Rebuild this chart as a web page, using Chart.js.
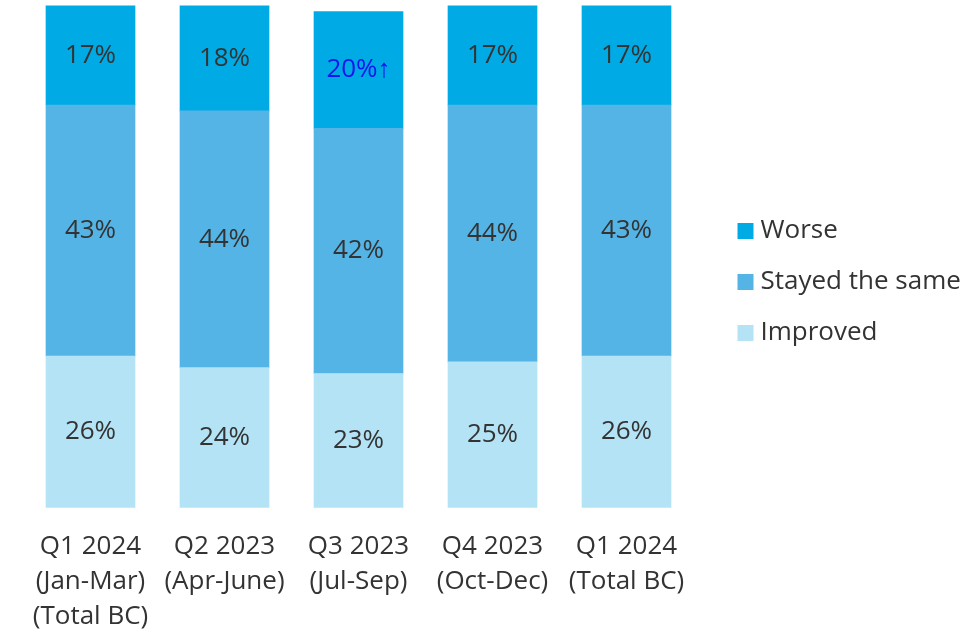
<!DOCTYPE html>
<html>
<head>
<meta charset="utf-8">
<script src="https://cdn.jsdelivr.net/npm/chart.js@4.4.1/dist/chart.umd.min.js"></script>
<style>
    html, body { margin: 0; padding: 0; background: #fff; }
    #wrap { width: 966px; height: 634px; }
</style>
</head>
<body>
<div id="wrap"><canvas id="bar_chart"></canvas></div>
<script>
var categories = [
    ["Q1 2024", "(Jan-Mar)", "(Total BC)"],
    ["Q2 2023", "(Apr-June)"],
    ["Q3 2023", "(Jul-Sep)"],
    ["Q4 2023", "(Oct-Dec)"],
    ["Q1 2024", "(Total BC)"]
];
var improved = [26, 24, 23, 25, 26];
var stayedSame = [43, 44, 42, 44, 43];
var worse = [17, 18, 20, 17, 17];
// arrow shown after a value that went up
var worseMarks = ["", "", "↑", "", ""];

var textColor = '#333333';
var fontFamily = '"Open Sans", "Noto Sans", sans-serif';
var fontSize = 26;

// value label in the middle of every segment
var segmentLabels = {
    id: 'segmentLabels',
    afterDatasetsDraw: function (chart) {
        var ctx = chart.ctx;
        ctx.save();
        ctx.font = fontSize + 'px ' + fontFamily;
        ctx.textAlign = 'center';
        ctx.textBaseline = 'middle';
        chart.data.datasets.forEach(function (ds, di) {
            chart.getDatasetMeta(di).data.forEach(function (bar, i) {
                var mark = ds.marks ? ds.marks[i] : '';
                ctx.fillStyle = mark ? '#1414ee' : textColor;
                ctx.fillText(ds.data[i] + '%' + mark, bar.x, (bar.y + bar.base) / 2);
            });
        });
        ctx.restore();
    }
};

// legend to the right, top series first
var sideLegend = {
    id: 'sideLegend',
    afterDraw: function (chart) {
        var ctx = chart.ctx;
        var x = chart.chartArea.right + 44;
        var items = chart.data.datasets.slice().reverse();
        ctx.save();
        ctx.font = fontSize + 'px ' + fontFamily;
        ctx.textAlign = 'left';
        ctx.textBaseline = 'middle';
        items.forEach(function (ds, i) {
            var y = 231 + i * 51;
            ctx.fillStyle = ds.backgroundColor;
            ctx.fillRect(x, y - 8, 16, 16);
            ctx.fillStyle = textColor;
            ctx.fillText(ds.label, x + 23, y);
        });
        ctx.restore();
    }
};

new Chart(document.getElementById("bar_chart").getContext("2d"), {
    type: 'bar',
    data: {
        labels: categories,
        datasets: [{
            label: "Improved",
            data: improved,
            backgroundColor: '#b3e3f5'
        }, {
            label: "Stayed the same",
            data: stayedSame,
            backgroundColor: '#55b4e6'
        }, {
            label: "Worse",
            data: worse,
            marks: worseMarks,
            backgroundColor: '#00abe5'
        }]
    },
    options: {
        responsive: true,
        maintainAspectRatio: false,
        animation: false,
        layout: {
            padding: { left: 23.5, right: 272.5, top: 0, bottom: -13 }
        },
        datasets: {
            bar: { barThickness: 89 }
        },
        scales: {
            x: {
                stacked: true,
                grid: { display: false },
                border: { display: false },
                ticks: {
                    color: textColor,
                    padding: 13,
                    maxRotation: 0,
                    font: { family: fontFamily, size: fontSize, lineHeight: 1.35 }
                }
            },
            y: {
                stacked: true,
                display: false,
                min: 0,
                max: 87
            }
        },
        plugins: {
            legend: { display: false },
            tooltip: { enabled: false }
        }
    },
    plugins: [segmentLabels, sideLegend]
});
</script>
</body>
</html>
